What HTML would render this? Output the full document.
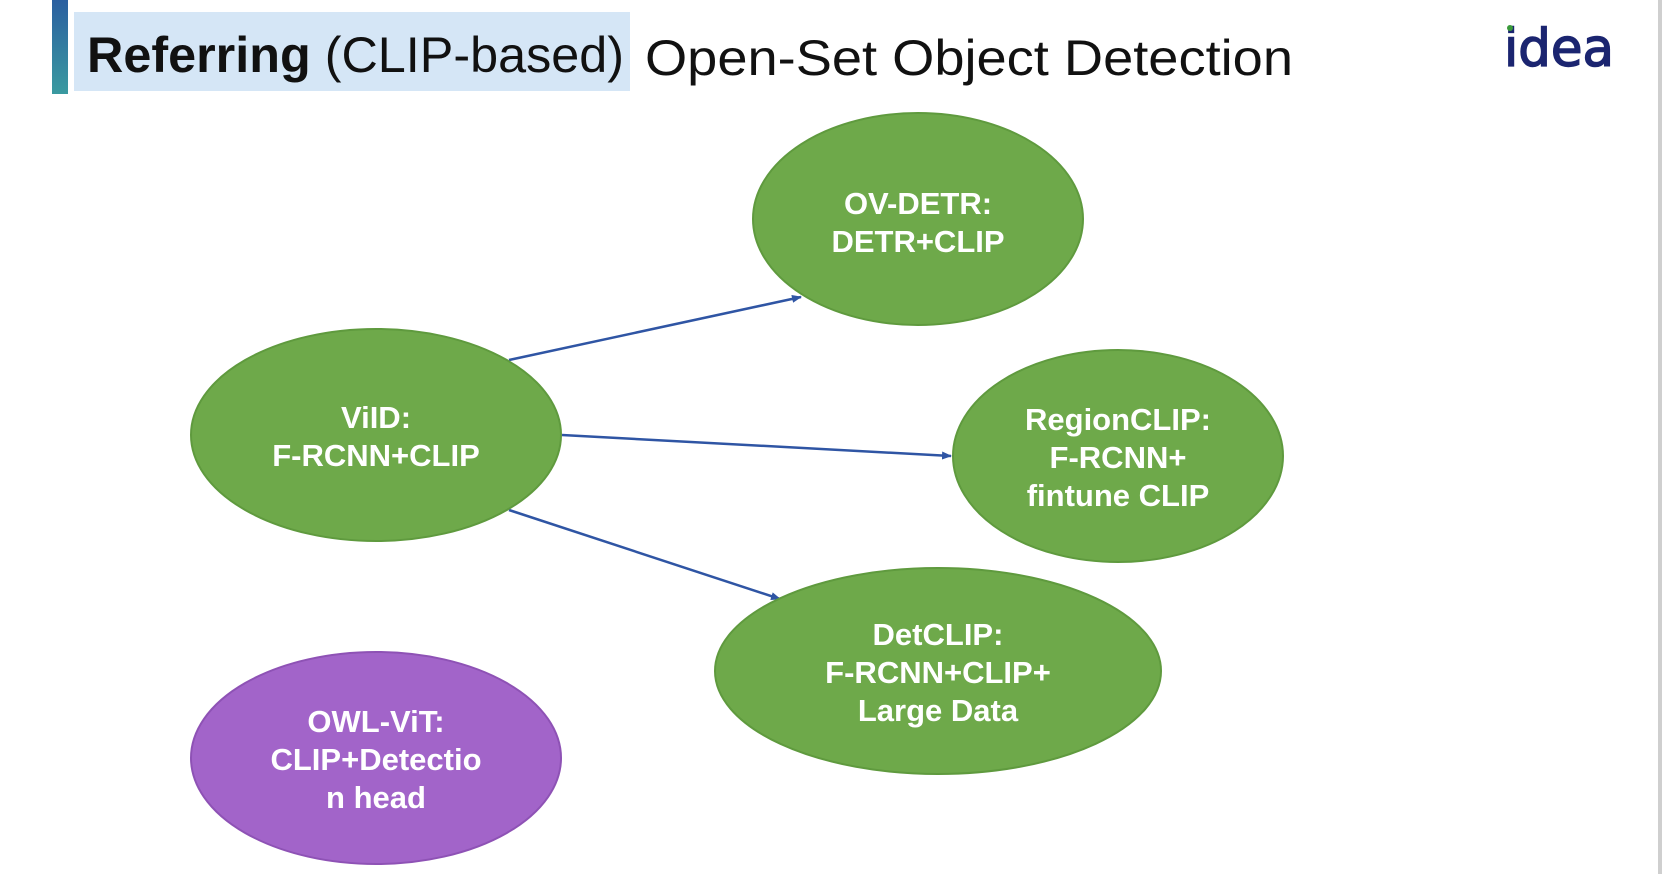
<!DOCTYPE html>
<html><head><meta charset="utf-8"><style>
html,body{margin:0;padding:0;background:#fff;}
svg{display:block;}
</style></head><body>
<svg width="1662" height="874" viewBox="0 0 1662 874" xmlns="http://www.w3.org/2000/svg">
<defs>
<linearGradient id="bar" x1="0" y1="0" x2="0" y2="1"><stop offset="0" stop-color="#2b5fa0"/><stop offset="1" stop-color="#3a9aa0"/></linearGradient>
<marker id="ah" markerWidth="10" markerHeight="8" refX="9" refY="4" orient="auto" markerUnits="userSpaceOnUse"><path d="M0,0 L10,4 L0,8 z" fill="#2f55a4"/></marker>
</defs>
<rect x="0" y="0" width="1662" height="874" fill="#ffffff"/>
<rect x="1658" y="0" width="4" height="874" fill="#cfcfcf"/>
<rect x="52" y="0" width="16" height="94" fill="url(#bar)"/>
<rect x="74" y="12" width="556" height="79" fill="#d5e6f6"/>
<text x="87" y="72" font-family="Liberation Sans, sans-serif" font-size="50" fill="#111" textLength="537" lengthAdjust="spacingAndGlyphs"><tspan font-weight="bold">Referring</tspan> (CLIP-based)</text>
<text x="645" y="75" font-family="Liberation Sans, sans-serif" font-size="50" fill="#111" textLength="648" lengthAdjust="spacingAndGlyphs">Open-Set Object Detection</text>
<text x="1504" y="66" font-family="DejaVu Sans, sans-serif" font-size="52" fill="#1b2570" stroke="#1b2570" stroke-width="1.5" textLength="110" lengthAdjust="spacingAndGlyphs">idea</text>
<circle cx="1510" cy="28" r="3" fill="#3a9a3a"/>
<g stroke="#2f55a4" stroke-width="2.5" marker-end="url(#ah)">
<line x1="509" y1="360" x2="801" y2="297"/>
<line x1="562" y1="435" x2="951" y2="456"/>
<line x1="509" y1="510" x2="780" y2="599"/>
</g>
<g stroke="#5f9a3e" stroke-width="2" fill="#6ea94a">
<ellipse cx="918" cy="219" rx="165" ry="106"/>
<ellipse cx="376" cy="435" rx="185" ry="106"/>
<ellipse cx="1118" cy="456" rx="165" ry="106"/>
<ellipse cx="938" cy="671" rx="223" ry="103"/>
</g>
<ellipse cx="376" cy="758" rx="185" ry="106" fill="#a264c9" stroke="#8e52b5" stroke-width="2"/>
<g font-family="Liberation Sans, sans-serif" font-size="31" font-weight="bold" fill="#fff" text-anchor="middle">
<text x="918" y="214">OV-DETR:</text><text x="918" y="252">DETR+CLIP</text>
<text x="376" y="428">ViID:</text><text x="376" y="466">F-RCNN+CLIP</text>
<text x="1118" y="430">RegionCLIP:</text><text x="1118" y="468">F-RCNN+</text><text x="1118" y="506">fintune CLIP</text>
<text x="938" y="645">DetCLIP:</text><text x="938" y="683">F-RCNN+CLIP+</text><text x="938" y="721">Large Data</text>
<text x="376" y="732">OWL-ViT:</text><text x="376" y="770">CLIP+Detectio</text><text x="376" y="808">n head</text>
</g>
</svg>
</body></html>
